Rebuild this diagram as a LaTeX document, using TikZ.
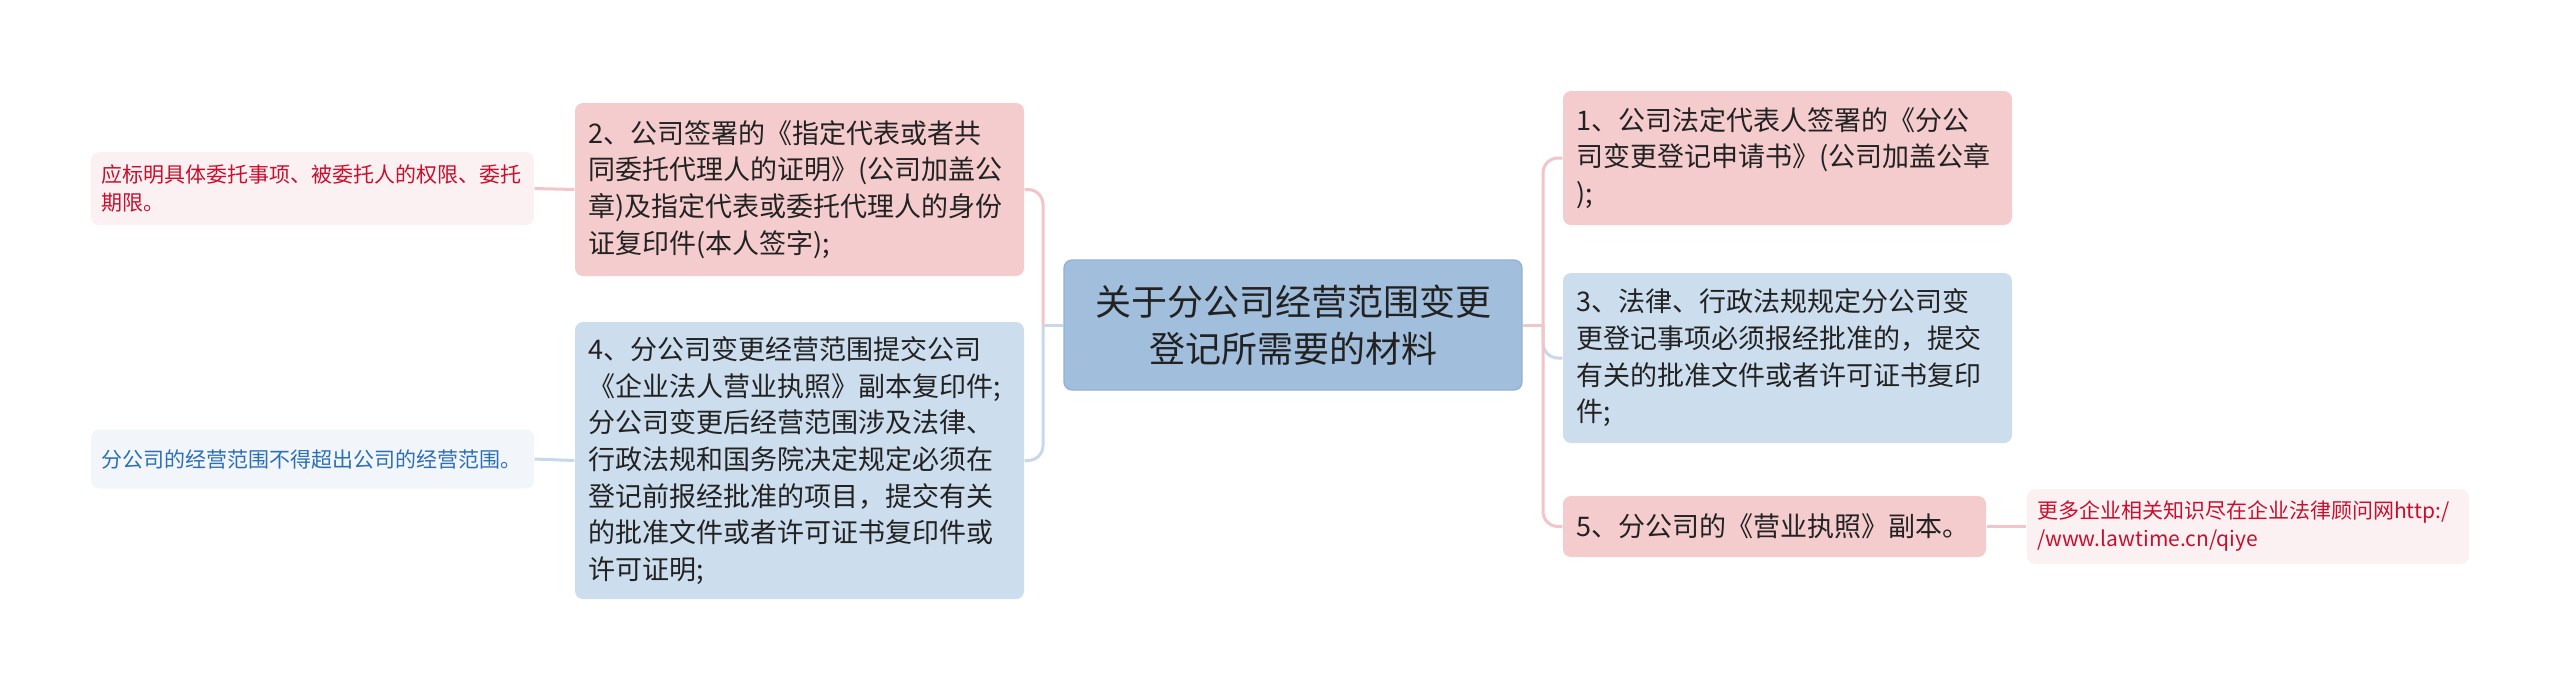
\documentclass[tikz,border=0pt]{standalone}
\usepackage{fontspec}
\setmainfont{Noto Sans CJK SC}
\usetikzlibrary{positioning}
\definecolor{pinkfill}{HTML}{F5CCCE}
\definecolor{bluefill}{HTML}{CCDDED}
\definecolor{centerfill}{HTML}{A1BFDC}
\definecolor{centerdraw}{HTML}{93B2D2}
\definecolor{pinkleaf}{HTML}{FCF1F2}
\definecolor{blueleaf}{HTML}{F2F6FB}
\definecolor{pinkline}{HTML}{F3C4C8}
\definecolor{blueline}{HTML}{C8D7EA}
\definecolor{redtext}{HTML}{C8102E}
\definecolor{bluetext}{HTML}{2C6FB5}
\definecolor{maintext}{HTML}{222222}
\tikzset{
  box/.style={rounded corners=2.4pt, inner xsep=4pt, inner ysep=0pt, align=left,
    text=maintext, font=\fontsize{8.1pt}{11pt}\selectfont},
  pinkbox/.style={box, fill=pinkfill},
  bluebox/.style={box, fill=bluefill},
  centerbox/.style={rounded corners=2.4pt, fill=centerfill, draw=centerdraw, line width=0.4pt,
    align=center, text=maintext, font=\fontsize{10.8pt}{14.1pt}\selectfont},
  leaf/.style={rounded corners=2.4pt, inner xsep=3pt, inner ysep=0pt, align=left,
    font=\fontsize{6.3pt}{8.4pt}\selectfont},
  pinkleafbox/.style={leaf, fill=pinkleaf, text=redtext},
  blueleafbox/.style={leaf, fill=blueleaf, text=bluetext},
  pconn/.style={draw=pinkline, line width=0.9pt, rounded corners=4.5pt},
  bconn/.style={draw=blueline, line width=0.9pt, rounded corners=4.5pt},
}
\begin{document}
\begin{tikzpicture}[x=0.3pt, y=-0.3pt]
\useasboundingbox (0,0) rectangle (2560,692);

\node[centerbox, minimum width=137.4pt, minimum height=39pt] (c) at (1293,325)
  {关于分公司经营范围变更\\登记所需要的材料};

\node[pinkbox, minimum width=134.7pt, minimum height=51.9pt, text width=126.7pt] (n2) at (799.5,189.5)
  {2、公司签署的《指定代表或者共\\同委托代理人的证明》(公司加盖公\\章)及指定代表或委托代理人的身份\\证复印件(本人签字);};

\node[bluebox, minimum width=134.7pt, minimum height=83.1pt, text width=126.7pt] (n4) at (799.5,460.5)
  {4、分公司变更经营范围提交公司\\《企业法人营业执照》副本复印件;\\分公司变更后经营范围涉及法律、\\行政法规和国务院决定规定必须在\\登记前报经批准的项目，提交有关\\的批准文件或者许可证书复印件或\\许可证明;};

\node[pinkleafbox, minimum width=132.9pt, minimum height=21.9pt, text width=126.9pt] (l1) at (312.5,188.5)
  {应标明具体委托事项、被委托人的权限、委托\\期限。};

\node[blueleafbox, minimum width=132.9pt, minimum height=17.7pt, text width=126.9pt] (l2) at (312.5,459)
  {分公司的经营范围不得超出公司的经营范围。};

\node[pinkbox, minimum width=134.7pt, minimum height=40.2pt, text width=126.7pt] (n1) at (1787.5,158)
  {1、公司法定代表人签署的《分公\\司变更登记申请书》(公司加盖公章\\);};

\node[bluebox, minimum width=134.7pt, minimum height=51pt, text width=126.7pt] (n3) at (1787.5,358)
  {3、法律、行政法规规定分公司变\\更登记事项必须报经批准的，提交\\有关的批准文件或者许可证书复印\\件;};

\node[pinkbox, minimum width=126.9pt, minimum height=18.3pt, text width=118.9pt] (n5) at (1774.5,526.5)
  {5、分公司的《营业执照》副本。};

\node[pinkleafbox, minimum width=132.6pt, minimum height=22.5pt, text width=126.6pt] (r) at (2248,526.5)
  {更多企业相关知识尽在企业法律顾问网http:/\\/www.lawtime.cn/qiye};

\coordinate (rt) at (1543,325);
\coordinate (lt) at (1043,325);

% right side
\draw[bconn] (rt) |- (n3.west);
\draw[pconn] (c.east) -- (rt);
\draw[pconn] (rt) |- (n1.west);
\draw[pconn] (rt) |- (n5.west);
\draw[pconn] (n5.east) -- (r.west);

% left side
\draw[bconn] (lt) |- (n4.east);
\draw[bconn] (c.west) -- (lt);
\draw[pconn] (lt) |- (n2.east);
\draw[pconn] (n2.west) -- (l1.east);
\draw[bconn] (n4.west) -- (l2.east);
\end{tikzpicture}
\end{document}
